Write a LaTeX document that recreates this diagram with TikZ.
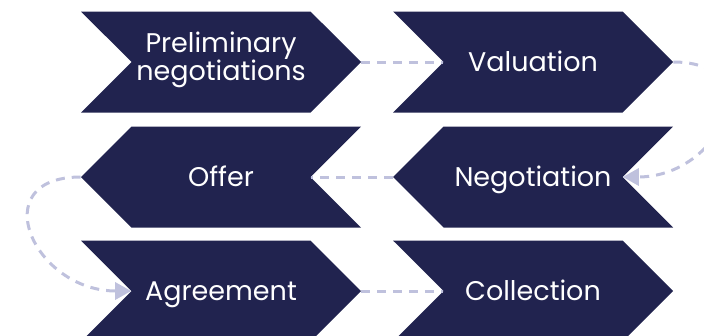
\documentclass[tikz,border=0pt]{standalone}
\usepackage{fontspec}
\setmainfont{Poppins}
\usetikzlibrary{shapes.symbols,arrows.meta}
\definecolor{navy}{HTML}{21234F}
\definecolor{lilac}{HTML}{BFC1DD}
\tikzset{chev/.style={
    signal,
    fill=navy,
    text=white,
    signal pointer angle=90,
    minimum width=280pt,
    minimum height=101pt,
    inner sep=0pt,
    align=center,
    text height=19pt,
    text depth=0pt,
    font=\fontsize{27}{28}\selectfont
  },
  rchev/.style={chev,signal from=west,signal to=east},
  lchev/.style={chev,signal from=east,signal to=west},
  link/.style={draw=lilac,line width=3pt,dash pattern=on 9pt off 7pt},
  linkarr/.style={link,-{Triangle[length=16pt,width=17pt]}}
}
\begin{document}
\begin{tikzpicture}[x=1pt,y=-1pt]
  \clip (0,0) rectangle (704,335);
  \node [rchev,text height=47pt,text depth=11pt] (prelim) at (221,62) {Preliminary\\negotiations};
  \node [rchev] (valu) at (533,62) {Valuation};
  \node [lchev] (nego) at (533,177) {Negotiation};
  \node [lchev] (offer) at (221,177) {Offer};
  \node [rchev] (agree) at (221,291) {Agreement};
  \node [rchev] (coll) at (533,291) {Collection};
  \draw[link] (prelim.east) -- (valu.west);
  \draw[linkarr] (valu.east) to[out=0,in=0,looseness=2] (nego.east);
  \draw[link] (nego.west) -- (offer.east);
  \draw[linkarr] (offer.west) to[out=180,in=180,looseness=2] (agree.west);
  \draw[link] (agree.east) -- (coll.west);
\end{tikzpicture}
\end{document}
